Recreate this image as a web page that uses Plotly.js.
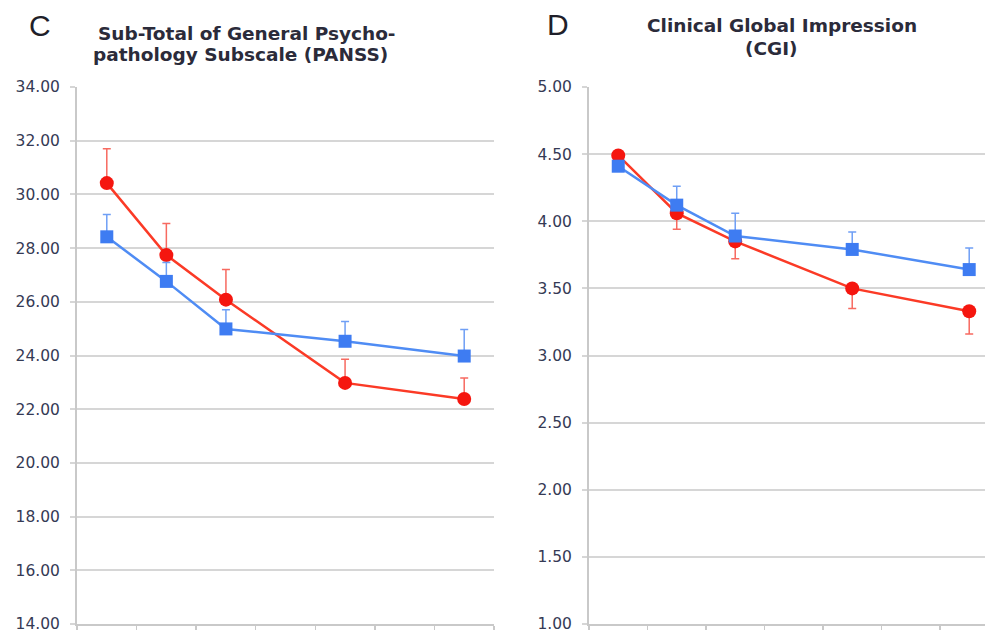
<!DOCTYPE html>
<html>
<head>
<meta charset="utf-8">
<script src="https://cdn.plot.ly/plotly-3.0.1.min.js"></script>
<style>html,body{margin:0;padding:0;background:#fff}#chart{width:985px;height:634px}</style>
</head>
<body>
<div id="chart"></div>
<script>
// visit slots (7 category slots, data at 5 of them)
const visits = [0, 1, 2, 4, 6];
const slotEdges = [-0.5, 0.5, 1.5, 2.5, 3.5, 4.5, 5.5, 6.5];

// Panel C: PANSS general psychopathology subtotal
const panssRed = [30.42, 27.74, 26.08, 22.98, 22.38];
const panssRedErr = [1.28, 1.18, 1.12, 0.88, 0.78];
const panssBlue = [28.42, 26.76, 24.99, 24.53, 23.98];
const panssBlueErr = [0.83, 0.70, 0.71, 0.74, 0.99];
const panssTicks = [14, 16, 18, 20, 22, 24, 26, 28, 30, 32, 34];

// Panel D: CGI
const cgiRed = [4.49, 4.06, 3.85, 3.50, 3.33];
const cgiRedErr = [0.03, 0.12, 0.13, 0.15, 0.17];
const cgiBlue = [4.41, 4.12, 3.89, 3.79, 3.64];
const cgiBlueErr = [0.03, 0.14, 0.17, 0.13, 0.16];
const cgiTicks = [1.0, 1.5, 2.0, 2.5, 3.0, 3.5, 4.0, 4.5, 5.0];

// Titles
const panelLetters = ['C', 'D'];
const titleC = ['Sub-Total of General Psycho-', 'pathology Subscale (PANSS)'];
const titleD = ['Clinical Global Impression', '(CGI)'];

const zeros = n => new Array(n).fill(0);

const RED = '#f5160f', RED_LINE = '#fb3a26', RED_ERR = '#f76a60';
const BLUE = '#3e7cf2', BLUE_LINE = '#4f8cf4', BLUE_ERR = '#6f9ff5';

function redTrace(xa, ya, y, plus, minus) {
  return {x: visits, y: y, xaxis: xa, yaxis: ya, type: 'scatter', mode: 'lines+markers',
    line: {color: RED_LINE, width: 2.5},
    marker: {symbol: 'circle', size: 14, color: RED},
    error_y: {type: 'data', symmetric: false, array: plus, arrayminus: minus,
      color: RED_ERR, thickness: 1.5, width: 4},
    hoverinfo: 'skip', showlegend: false};
}
function blueTrace(xa, ya, y, plus, minus) {
  return {x: visits, y: y, xaxis: xa, yaxis: ya, type: 'scatter', mode: 'lines+markers',
    line: {color: BLUE_LINE, width: 2.5},
    marker: {symbol: 'square', size: 13, color: BLUE},
    error_y: {type: 'data', symmetric: false, array: plus, arrayminus: minus,
      color: BLUE_ERR, thickness: 1.5, width: 4},
    hoverinfo: 'skip', showlegend: false};
}

const data = [
  redTrace('x', 'y', panssRed, panssRedErr, zeros(5)),
  blueTrace('x', 'y', panssBlue, panssBlueErr, zeros(5)),
  redTrace('x2', 'y2', cgiRed, zeros(5), cgiRedErr),
  blueTrace('x2', 'y2', cgiBlue, cgiBlueErr, zeros(5))
];

const W = 985, H = 634;
const yDom = [(H - 624) / H, (H - 87) / H];
const tickFont = {family: 'DejaVu Sans, sans-serif', size: 15.5, color: '#353a55'};
const axisGray = '#c9c9c9';

function xAxis(dom, range) {
  return {domain: dom, range: range, showgrid: false, zeroline: false,
    showline: true, linecolor: axisGray, linewidth: 2,
    tickmode: 'array', tickvals: slotEdges, ticktext: slotEdges.map(() => ''),
    ticks: 'outside', ticklen: 4, tickwidth: 1.5, tickcolor: axisGray, showticklabels: false};
}
function yAxis(range, ticks, anchor) {
  return {domain: yDom, range: range, anchor: anchor, tickmode: 'array', tickvals: ticks,
    ticktext: ticks.map(v => v.toFixed(2)), tickfont: tickFont,
    showgrid: true, gridcolor: '#d6d6d6', gridwidth: 2, zeroline: false,
    showline: true, linecolor: axisGray, linewidth: 2,
    ticks: 'outside', ticklen: 5, tickwidth: 2, tickcolor: '#d6d6d6', ticklabelstandoff: 7};
}

const titleFont = {family: 'DejaVu Sans, sans-serif', size: 18.5, color: '#2b2b3a', weight: 'bold'};
const letterFont = {family: 'Liberation Sans, Arial, sans-serif', size: 30, color: '#1f1f2a'};

function ann(text, px, py, font, xanchor) {
  return {text: text, x: px / W, y: 1 - py / H, xref: 'paper', yref: 'paper',
    xanchor: xanchor || 'center', yanchor: 'middle', showarrow: false, font: font};
}

const layout = {
  width: W, height: H,
  margin: {l: 0, r: 0, t: 0, b: 0},
  paper_bgcolor: '#ffffff', plot_bgcolor: '#ffffff',
  xaxis: xAxis([77 / W, 494 / W], [-0.5, 6.5]),
  yaxis: yAxis([14, 34], panssTicks, 'x'),
  xaxis2: xAxis([589 / W, 1], [-0.5, 6.27]),
  yaxis2: yAxis([1, 5], cgiTicks, 'x2'),
  annotations: [
    ann(panelLetters[0], 27, 26, letterFont, 'left'),
    ann(panelLetters[1], 545, 25, letterFont, 'left'),
    ann('<b>' + titleC[0] + '</b>', 247, 33, titleFont),
    ann('<b>' + titleC[1] + '</b>', 240, 54, titleFont),
    ann('<b>' + titleD[0] + '</b>', 782, 26, titleFont),
    ann('<b>' + titleD[1] + '</b>', 771, 49, titleFont)
  ]
};

Plotly.newPlot('chart', data, layout, {staticPlot: true, displayModeBar: false});
</script>
</body>
</html>
